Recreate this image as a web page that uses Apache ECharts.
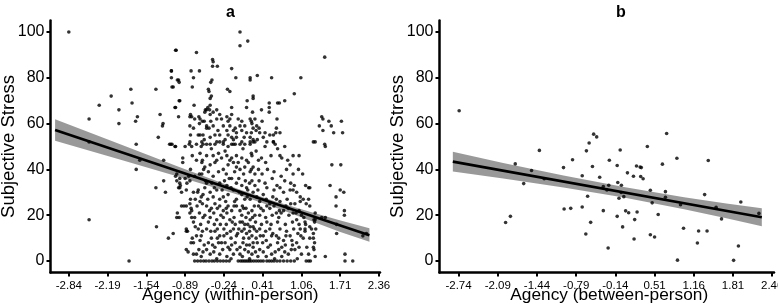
<!DOCTYPE html>
<html>
<head>
<meta charset="utf-8">
<script src="https://cdn.jsdelivr.net/npm/echarts@6/dist/echarts.min.js"></script>
<style>
  html, body { margin: 0; padding: 0; background: #fff; }
  #chart { width: 778px; height: 307px; }
</style>
</head>
<body>
<div id="chart"></div>
<script>
// tick labels
var ticksWithin = [-2.84, -2.19, -1.54, -0.89, -0.24, 0.41, 1.06, 1.71, 2.36];
var ticksBetween = [-2.74, -2.09, -1.44, -0.79, -0.14, 0.51, 1.16, 1.81, 2.46];
var stressTicks = [0, 20, 40, 60, 80, 100];

// panel a: agency (within-person) vs stress
var withinLeft = [
  [-2.84,100],[-2.50,62],[-2.50,52],[-2.50,18],[-2.33,68],[-2.13,72],[-2.00,66],[-2.00,60],
  [-1.83,0],[-1.80,75],[-1.78,69],[-1.72,61],[-1.69,63],[-1.71,51],[-1.71,40],[-1.65,44],
  [-1.38,75],[-1.38,32],[-1.37,15],[-1.34,54],[-1.31,64],[-1.27,59],[-1.26,60],[-1.25,44],
  [-1.25,35],[-1.22,30],[-1.17,10],[-1.09,12],[-1.12,83],[-1.12,80],[-1.11,76],[-1.13,51],
  [-1.05,67],[-1.05,50],[-1.05,37],[-1.04,92],[-1.00,79],[-0.98,70],[-1.02,21],[-1.00,32],
  [-0.98,34],[-0.95,30],[-0.93,45],[-0.93,43],[-0.91,24],[-1.11,51],[-1.03,35],[-0.97,33],
  [-0.99,19],[-0.87,13],[-0.81,21],[-0.84,4],[-0.75,3]
];
var withinUpper = [
  [0.03,100],[0.03,94],[0.16,96],[-1.05,92],[-0.70,91],[-0.43,88],[-0.42,87],[-0.43,85],
  [-0.35,85],[-0.11,84],[-1.12,83],[-0.79,83],[-0.65,83],[-0.75,80],[-1.02,79],[-0.99,78],
  [-0.44,79],[-0.46,78],[-0.04,80],[0.20,80],[0.20,79],[-1.09,76],[-0.77,76],[-0.50,75],
  [-0.49,74],[-0.18,75],[-0.14,74],[-0.45,72],[-0.47,71],[0.25,72],[-0.99,70],[-0.74,68],
  [-1.06,67],[-0.47,68],[-0.53,66],[-0.56,65],[-0.11,67],[0.15,70],[0.14,67],[-0.36,66],
  [-0.42,65],[-0.47,64],[-1.00,63],[-0.80,64],[-0.81,63],[-0.73,62],[-0.64,62],[-0.60,61],
  [-0.31,64],[-0.28,62],[-0.19,63],[-0.14,62],[-0.11,64],[-0.17,61],[0.00,62],[0.06,61],
  [0.03,59],[0.20,62],[0.23,60],[-0.53,59],[-0.49,58],[-0.42,59],[-0.81,59],[-0.75,58],
  [-0.25,59],[-0.19,57],[-0.14,59],[-0.08,57],[-0.03,56],[0.06,57],[0.14,56],[0.22,56],
  [-0.67,55],[-0.59,55],[-0.47,54],[-0.39,55],[-0.31,55],[-0.17,55],[-0.11,54],[-0.08,53],
  [-0.03,54],[-0.70,51],[-0.61,52],[-0.53,51],[-0.36,52],[-0.25,52],[-0.08,51],[0.06,52],
  [0.20,51],[0.25,52],[-0.78,63],[-0.66,63],[-0.65,60],[-0.64,55],[-0.62,50],[-0.80,55],
  [-0.82,51],[-0.55,66],[-0.51,67],[-0.48,66],[-0.57,61],[-0.53,58],[-0.46,61],[-0.36,62],
  [1.45,89],[0.32,81],[0.56,80],[1.05,80],[0.94,73],[0.25,71],[0.78,70],[0.52,69],
  [0.66,69],[0.69,69],[0.52,67],[0.52,65],[0.39,66],[0.24,65],[0.65,62],[0.40,61],
  [0.28,62],[0.22,61],[0.31,59],[0.25,58],[0.64,58],[0.63,56],[0.30,57],[0.36,56],
  [0.70,56],[0.53,55],[0.59,55],[0.20,54],[0.25,53],[0.32,53],[0.42,54],[0.48,52],
  [0.62,51],[0.28,52],[1.26,52],[0.59,52],[0.78,50],
  [-0.34,57],[-0.22,53],[-0.05,58],[0.10,54],[0.11,59],[0.35,58],[0.45,56],[-0.57,53]
];
var withinMid = [
  [-1.15,51],[-1.06,50],[-0.89,50],[-0.81,52],[-0.78,50],[-0.59,51],[-0.47,51],[-0.39,51],
  [-0.31,52],[-0.25,51],[-0.17,50],[-0.11,51],[-0.05,51],[0.03,51],[0.11,51],[0.20,52],
  [-0.64,47],[-0.53,46],[-0.42,46],[-0.33,47],[-0.28,45],[-0.19,46],[-0.11,45],[-0.03,46],
  [0.06,45],[0.14,44],[0.23,46],[-0.61,43],[-0.56,41],[-0.47,42],[-0.39,43],[-0.25,40],
  [-0.17,42],[-0.08,43],[-0.03,41],[0.03,40],[0.11,41],[0.20,39],[0.25,41],[-0.77,46],
  [-0.60,44],[-0.58,40],[-1.03,38],[-0.98,36],[-0.89,36],[-0.81,35],[-0.73,37],[-0.61,38],
  [-0.53,34],[-0.42,37],[-0.31,34],[-0.19,33],[-0.11,36],[-0.03,34],[0.06,33],[0.14,32],
  [0.23,35],[0.28,33],[-0.83,37],[-0.65,38],[-0.55,35],[-0.98,32],[-0.87,31],[-0.75,30],
  [-0.67,31],[-0.59,29],[-0.47,30],[-0.36,31],[-0.25,28],[-0.17,29],[-0.08,31],[-0.03,27],
  [0.06,29],[0.11,27],[0.20,27],[0.25,30],[-0.68,30],[-0.80,27],[-0.62,28],[-0.60,25],
  [-0.95,24],[-0.87,24],[-0.81,25],[-0.64,26],[-0.53,24],[-0.45,23],[-0.39,25],[-0.31,24],
  [-0.25,22],[-0.17,24],[-0.11,22],[-0.03,24],[0.03,22],[0.09,23],[0.17,21],[0.23,22],
  [0.28,20],[-0.79,23],[-0.65,21],[-1.03,19],[-0.78,22],[-0.73,19],[-0.59,19],[-0.47,19],
  [-0.36,18],[-0.25,19],[-0.14,18],[-0.05,16],[0.03,17],[0.11,16],[0.20,18],[0.25,15],
  [-0.78,19],[-0.75,17],[-0.72,15],[-0.87,14],[-0.67,14],[-0.53,14],[-0.39,13],[-0.31,11],
  [-0.19,12],[-0.08,14],[-0.03,11],[0.06,13],[0.14,12],[0.23,11],[-0.85,13],[-0.77,10],
  [-0.70,11],[-0.75,8],[-0.64,9],[-0.50,8],[-0.39,6],[-0.28,8],[-0.17,6],[-0.05,8],
  [0.03,6],[0.14,7],[0.25,8],[-0.79,8],[-0.87,5],[-0.66,5],[-0.70,3],[-0.59,4],
  [-0.47,3],[-0.31,3],[-0.19,2],[-0.08,3],[0.03,3],[0.11,5],[0.23,3],
  [0.59,52],[1.46,50],[0.22,47],[0.34,44],[0.39,45],[0.70,46],[0.73,45],[0.92,46],
  [0.87,42],[0.81,40],[0.92,38],[1.01,40],[0.22,40],[0.34,40],[1.57,42],[1.54,33],
  [1.18,32],[1.04,28],[1.09,27],[1.18,27],[0.87,31],[0.76,30],[0.64,27],[0.53,25],
  [0.42,29],[0.31,28],[0.34,24],[0.42,22],[0.53,23],[0.64,21],[0.76,22],[0.84,23],
  [0.92,21],[0.98,18],[1.06,20],[1.12,17],[1.20,15],[1.23,14],[1.26,10],[1.29,18],
  [1.40,19],[1.46,19],[1.04,14],[1.12,14],[1.20,10],[0.20,15],[0.31,13],[0.42,11],
  [0.53,14],[0.64,11],[0.76,9],[0.87,11],[0.98,8],[1.09,10],[0.25,6],[0.36,5],
  [0.50,6],[0.62,4],[0.73,6],[0.84,3],[0.95,5],[1.06,3],[1.18,3],[1.26,6],[1.15,6],
  [0.92,31],[1.02,46],[0.94,33],[1.04,26],[1.14,25]
];
var withinCore = [
  [-0.45,49],[-0.22,48],[0.08,49],[0.30,48],[0.45,50],[0.66,49],
  [-0.70,44],[-0.36,44],[-0.14,44],[0.00,43],[0.17,43],[0.46,43],[0.55,46],[0.83,44],
  [-0.80,40],[-0.50,39],[-0.33,39],[-0.20,38],[-0.06,39],[0.09,38],[0.28,38],[0.40,38],
  [0.49,40],[0.60,39],[0.72,37],[1.08,38],
  [-0.86,34],[-0.44,34],[-0.23,35],[-0.15,36],[0.01,36],[0.12,35],[0.19,34],[0.35,35],
  [0.45,34],[0.57,36],[0.65,33],[0.78,35],[0.88,34],[1.13,33],
  [-0.56,32],[-0.40,32],[-0.27,31],[-0.12,32],[0.02,30],[0.16,31],[0.33,31],[0.48,32],
  [0.60,31],[0.70,32],[0.98,30],
  [-0.72,27],[-0.51,27],[-0.42,28],[-0.31,27],[-0.21,26],[-0.06,26],[0.15,28],[0.36,26],
  [0.47,27],[0.58,28],[0.70,26],[0.82,27],[0.95,25],
  [-0.69,24],[-0.48,22],[-0.35,23],[-0.20,23],[-0.07,24],[0.07,24],[0.13,23],[0.27,24],
  [0.38,23],[0.48,24],[0.60,24],[0.69,22],[0.80,24],[0.88,25],[1.02,22],
  [-0.56,20],[-0.41,21],[-0.29,20],[-0.19,21],[-0.07,19],[0.06,20],[0.13,19],[0.24,19],
  [0.36,20],[0.46,19],[0.57,20],[0.68,19],[0.72,21],[0.85,20],[0.97,21],[1.10,19],
  [-0.63,16],[-0.50,17],[-0.40,16],[-0.30,16],[-0.20,16],[-0.10,17],[0.07,17],[0.16,16],
  [0.29,17],[0.39,16],[0.48,17],[0.55,16],[0.66,17],[0.79,16],[0.91,17],[1.02,16],
  [-0.60,13],[-0.46,13],[-0.35,14],[-0.24,14],[-0.13,13],[0.01,14],[0.10,14],[0.19,13],
  [0.27,14],[0.36,14],[0.46,13],[0.58,12],[0.70,14],[0.81,13],[0.93,14],[1.00,12],
  [-0.62,11],[-0.45,10],[-0.35,10],[-0.24,11],[-0.12,10],[-0.01,12],[0.09,10],[0.18,10],
  [0.30,10],[0.37,11],[0.47,9],[0.56,11],[0.68,10],[0.80,11],[0.90,9],[1.05,11],
  [-0.57,7],[-0.43,7],[-0.33,8],[-0.22,8],[-0.11,7],[0.08,8],[0.19,7],[0.32,8],
  [0.41,8],[0.54,7],[0.66,8],[0.79,7],[0.91,7],[1.02,6],
  [-0.53,5],[-0.41,4],[-0.26,5],[-0.14,5],[-0.02,5],[0.17,4],[0.29,4],[0.42,4],
  [0.56,3],[0.68,5],[0.78,4],[0.89,5],
  [-0.62,2],[-0.36,1],[-0.12,1],[0.07,2],[0.19,1],[0.33,2],[0.47,2],[0.61,1],[0.73,2],[0.99,1]
];
var withinZero = [
  [-0.73,0],[-0.68,0],[-0.63,0],[-0.58,0],[-0.54,0],[-0.49,0],[-0.44,0],[-0.40,0],
  [-0.35,0],[-0.30,0],[-0.25,0],[-0.20,0],[-0.15,0],[0.00,0],[0.04,0],[0.07,0],
  [0.10,0],[0.13,0],[0.16,0],[0.19,0],[0.22,0],[0.26,0],[0.30,0],[0.34,0],
  [0.38,0],[0.42,0],[0.48,0],[0.52,0],[0.56,0],[0.60,0],[0.65,0],[0.70,0],
  [0.76,0],[0.82,0],[0.88,0],[0.94,0],[1.14,0],[1.18,0],[1.21,0],[1.79,0],[1.92,0]
];
var withinRight = [
  [1.40,63],[1.42,62],[1.36,59],[1.52,61],[1.56,59],[1.60,56],[1.75,56],[1.29,52],
  [1.73,61],[1.20,32],[1.71,31],[1.77,30],[1.72,42],[1.64,28],[1.64,24],[1.78,22],
  [1.78,20],[1.65,16],[1.65,12],[1.79,3],[2.09,11],[2.15,12],[1.46,2],[1.29,2],
  [1.27,5],[1.28,8],[1.26,12],[1.30,14],[1.28,17],[1.27,18],[1.12,13],[1.13,16],
  [1.29,21],[1.20,24],[1.42,57],[1.45,51]
];
// regression fit + 95% band, panel a
var fitWithinX = [-3.07, 2.20];
var fitWithinY = [57.2, 11.3];
var bandWithinX = [-3.07, -2.0, -1.0, 0.0, 0.6, 1.2, 1.7, 2.20];
var bandWithinLo = [52.5, 44.4, 36.8, 28.9, 23.6, 17.7, 12.8, 8.4];
var bandWithinHi = [61.9, 51.2, 41.2, 31.5, 26.2, 21.5, 17.8, 14.3];

// panel b: agency (between-person) vs stress
var betweenPts = [
  [-2.73,65.6],[-1.96,16.8],[-1.88,19.5],[-1.80,42.4],[-1.66,33.8],[-1.53,39.5],[-1.40,48.3],
  [-1.32,35.9],[-1.00,40.8],[-0.99,22.7],[-0.88,23.0],[-0.85,44.2],[-0.69,37.2],[-0.69,23.6],
  [-0.63,11.8],[-0.62,48.1],[-0.60,28.3],[-0.575,51.5],[-0.55,16.9],[-0.52,41.3],[-0.50,55.4],
  [-0.45,54.2],[-0.40,36.6],[-0.34,22.0],[-0.34,32.5],[-0.28,31.0],[-0.26,5.7],[-0.25,33.1],
  [-0.24,44.0],[-0.11,41.7],[-0.11,19.5],[-0.10,34.3],[-0.08,27.4],[-0.06,48.5],[-0.045,29.9],
  [-0.04,33.1],[-0.02,14.9],[0.00,28.1],[0.03,21.9],[0.06,38.5],[0.08,21.1],[0.16,37.0],
  [0.17,9.6],[0.18,18.1],[0.21,41.5],[0.22,21.4],[0.27,41.0],[0.29,40.8],[0.28,36.9],
  [0.32,35.9],[0.39,50.0],[0.44,11.5],[0.44,30.9],[0.47,25.4],[0.51,10.5],[0.57,20.3],
  [0.64,42.3],[0.69,30.3],[0.69,27.8],[0.71,55.7],[0.88,44.9],[0.89,0.4],[0.94,24.6],
  [0.99,14.3],[1.22,7.9],[1.24,13.1],[1.34,29.0],[1.38,13.1],[1.40,43.9],[1.53,23.5],
  [1.62,18.4],[1.82,0.3],[1.90,6.6],[1.94,25.8],[2.24,20.8]
];
var fitBetweenX = [-2.835, 2.288];
var fitBetweenY = [43.4, 19.1];
var bandBetweenX = [-2.835, -2.0, -1.0, 0.0, 1.0, 1.7, 2.288];
var bandBetweenLo = [39.1, 36.0, 32.1, 27.7, 22.6, 18.7, 15.2];
var bandBetweenHi = [47.7, 42.8, 37.3, 32.3, 27.8, 25.1, 23.0];

var withinPts = withinLeft.concat(withinUpper, withinMid, withinCore, withinZero, withinRight);

function bandSeries(idx, xs, lo, hi) {
  return {
    type: 'custom',
    xAxisIndex: idx, yAxisIndex: idx,
    z: 3, silent: true,
    data: [[xs[0], lo[0]]],
    renderItem: function (params, api) {
      var pts = [];
      for (var i = 0; i < xs.length; i++) pts.push(api.coord([xs[i], hi[i]]));
      for (var j = xs.length - 1; j >= 0; j--) pts.push(api.coord([xs[j], lo[j]]));
      return { type: 'polygon', shape: { points: pts }, style: { fill: 'rgba(0,0,0,0.40)' } };
    }
  };
}
function fitSeries(idx, xs, ys) {
  return {
    type: 'line', xAxisIndex: idx, yAxisIndex: idx, z: 4, silent: true,
    showSymbol: false, data: [[xs[0], ys[0]], [xs[1], ys[1]]],
    lineStyle: { color: '#000', width: 2.6 }
  };
}
function xAxisDef(idx, min, max, ticks, name, shift) {
  return {
    type: 'value', gridIndex: idx, min: min, max: max,
    name: name, nameLocation: 'middle', nameGap: 14, nameMoveOverlap: false,
    nameTextStyle: { fontSize: 17.3, color: '#000', fontFamily: 'Liberation Sans', padding: [0, 0, 0, shift] },
    axisLine: { onZero: false, lineStyle: { color: '#000', width: 2.5 } },
    axisTick: { length: 4, lineStyle: { color: '#000', width: 2 }, customValues: ticks },
    axisLabel: { customValues: ticks, margin: 7, fontSize: 11.5, color: '#000', fontFamily: 'Liberation Sans',
      formatter: function (v) { return v.toFixed(2); } },
    splitLine: { show: false }
  };
}
function yAxisDef(idx) {
  return {
    type: 'value', gridIndex: idx, min: -5, max: 105,
    name: 'Subjective Stress', nameLocation: 'middle', nameGap: 32, nameMoveOverlap: false,
    nameTextStyle: { fontSize: 18.5, color: '#000', fontFamily: 'Liberation Sans' },
    axisLine: { onZero: false, lineStyle: { color: '#000', width: 2.5 } },
    axisTick: { length: 4, lineStyle: { color: '#000', width: 2 }, customValues: stressTicks },
    axisLabel: { customValues: stressTicks, margin: 6, fontSize: 16, color: '#000', fontFamily: 'Liberation Sans' },
    splitLine: { show: false }
  };
}

var chart = echarts.init(document.getElementById('chart'), null, { renderer: 'canvas' });
chart.setOption({
  animation: false,
  backgroundColor: '#fff',
  title: [
    { text: 'a', left: 221, top: 0, textStyle: { fontSize: 16, fontWeight: 'bold', color: '#000', fontFamily: 'Liberation Sans' } },
    { text: 'b', left: 611, top: 0, textStyle: { fontSize: 16, fontWeight: 'bold', color: '#000', fontFamily: 'Liberation Sans' } }
  ],
  grid: [
    { left: 50.5, top: 20.5, width: 329.5, height: 252, outerBoundsMode: 'none', containLabel: false },
    { left: 439.5, top: 20.5, width: 334.5, height: 252, outerBoundsMode: 'none', containLabel: false }
  ],
  xAxis: [
    xAxisDef(0, -3.147, 2.377, ticksWithin, 'Agency (within-person)', 30),
    xAxisDef(1, -3.056, 2.49, ticksBetween, 'Agency (between-person)', 5)
  ],
  yAxis: [yAxisDef(0), yAxisDef(1)],
  series: [
    { type: 'scatter', xAxisIndex: 0, yAxisIndex: 0, data: withinPts, symbolSize: 3.6,
      itemStyle: { color: '#000' }, silent: true, z: 2 },
    bandSeries(0, bandWithinX, bandWithinLo, bandWithinHi),
    fitSeries(0, fitWithinX, fitWithinY),
    { type: 'scatter', xAxisIndex: 1, yAxisIndex: 1, data: betweenPts, symbolSize: 3.6,
      itemStyle: { color: '#000' }, silent: true, z: 2 },
    bandSeries(1, bandBetweenX, bandBetweenLo, bandBetweenHi),
    fitSeries(1, fitBetweenX, fitBetweenY)
  ]
});
</script>
</body>
</html>
